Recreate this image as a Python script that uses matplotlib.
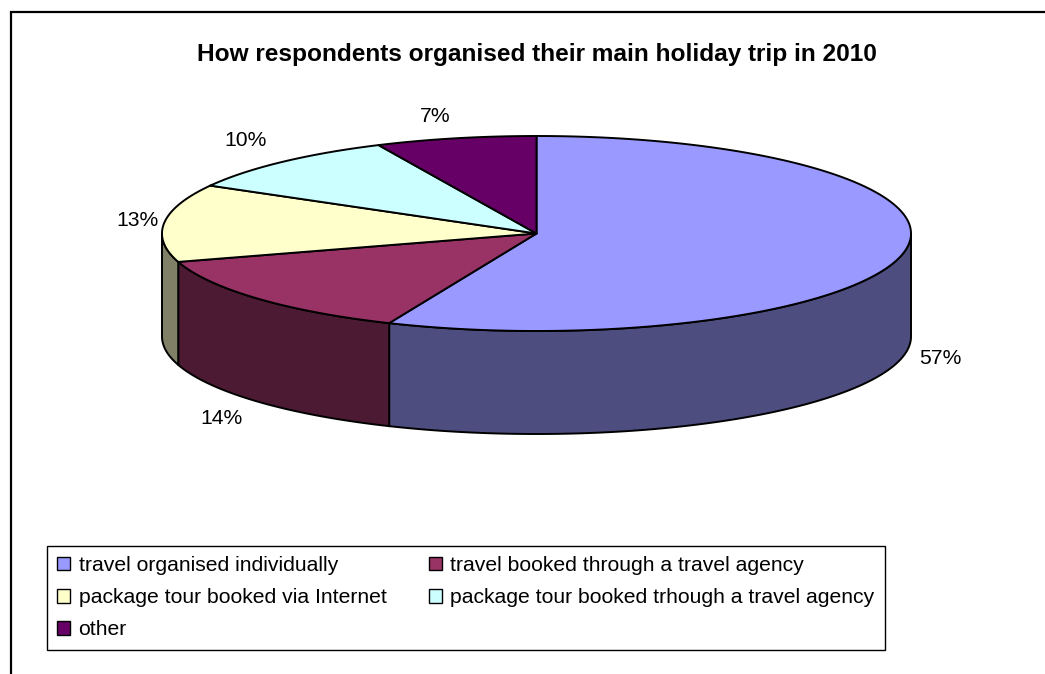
import numpy as np
import matplotlib
matplotlib.use("Agg")
import matplotlib.pyplot as plt
from matplotlib.patches import Polygon, Patch, Rectangle

plt.rcParams['font.family'] = ['Liberation Sans', 'DejaVu Sans']

title = "How respondents organised their main holiday trip in 2010"
categories = ["travel organised individually", "travel booked through a travel agency",
              "package tour booked via Internet", "package tour booked trhough a travel agency",
              "other"]
values = [57, 14, 13, 10, 7]
top_colors = ["#9999FF", "#993366", "#FFFFCC", "#CCFFFF", "#660066"]
side_colors = ["#4D4D80", "#4D1A33", "#808066", "#666680", "#330033"]

W, H = 1045, 674
fig = plt.figure(figsize=(W / 100, H / 100), dpi=100, facecolor="white")
ax = fig.add_axes([0, 0, 1, 1])
ax.set_xlim(0, W)
ax.set_ylim(H, 0)
ax.axis("off")

# chart frame: left and top edges only are visible in the crop
ax.plot([10.5, 10.5, W], [H, 11.5, 11.5], color="black", lw=1.6, solid_joinstyle="miter")

cx, cy, rx, ry, depth = 536.5, 233.5, 374.5, 97.5, 103
total = sum(values)
fracs = np.array(values) / total
edges = np.concatenate([[0], np.cumsum(fracs) * 360])


def rim(a0, a1):
    t = np.radians(np.linspace(a0, a1, max(int(abs(a1 - a0) * 2), 2)))
    return cx + rx * np.sin(t), cy - ry * np.cos(t)


# visible wall: clockwise angles 90..270 from 12 o'clock
for i in range(len(values)):
    a0, a1 = max(edges[i], 90), min(edges[i + 1], 270)
    if a1 <= a0:
        continue
    x, y = rim(a0, a1)
    pts = np.r_[np.c_[x, y], np.c_[x[::-1], y[::-1] + depth]]
    ax.add_patch(Polygon(pts, closed=True, fc=side_colors[i], ec="black", lw=1.4, zorder=2))

# top face
for i in range(len(values)):
    x, y = rim(edges[i], edges[i + 1])
    pts = np.r_[[[cx, cy]], np.c_[x, y]]
    ax.add_patch(Polygon(pts, closed=True, fc=top_colors[i], ec="black", lw=1.4, zorder=3,
                         joinstyle="round"))

ax.text(536.5, 54, title, ha="center", va="center", fontsize=17.6, fontweight="bold", color="black")

label_xy = [(940, 359), (221, 419), (138, 220), (246, 141), (435, 117)]
for v, (lx, ly) in zip(values, label_xy):
    ax.text(lx, ly, f"{v}%", ha="center", va="center", fontsize=15.2, color="black")

# legend (row-wise reading order, matplotlib fills column-wise)
handles = [Patch(fc=c, ec="black", lw=1.0) for c in top_colors]
order = [0, 2, 4, 1, 3]
leg = ax.legend([handles[i] for i in order], [categories[i] for i in order], ncol=2,
                loc="upper left", bbox_to_anchor=(46.5, 545.5), bbox_transform=ax.transData,
                borderaxespad=0, fontsize=15.2, frameon=True, fancybox=False, framealpha=1,
                edgecolor="black", handlelength=0.62, handleheight=0.62, handletextpad=0.4,
                labelspacing=0.62, columnspacing=2.0, borderpad=0.5)
leg.get_frame().set_linewidth(1.0)

fig.savefig("out.png", dpi=100, facecolor="white")
